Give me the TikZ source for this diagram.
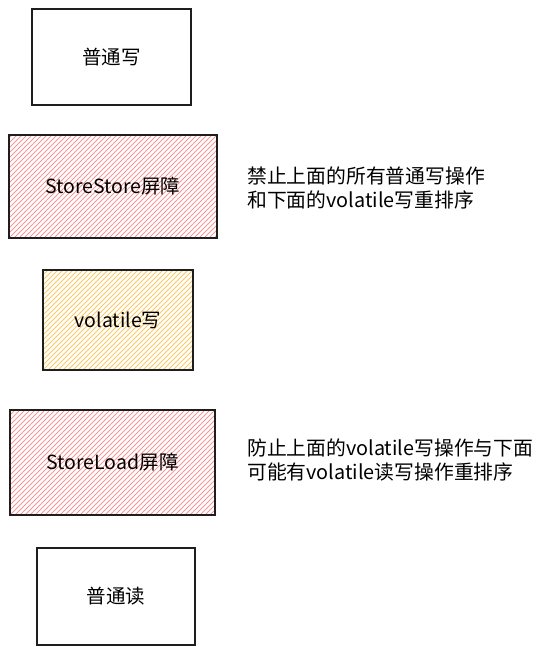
\documentclass[tikz,border=0pt]{standalone}
\usepackage{fontspec}
\setmainfont{Noto Sans CJK SC}
\definecolor{hred}{RGB}{246,150,150}
\definecolor{hyel}{RGB}{252,200,100}
\definecolor{edge}{RGB}{30,30,30}
\tikzset{
  box/.style={draw=edge, line width=1.3pt, inner sep=0pt, font=\fontsize{19.5}{22}\selectfont},
  hatch/.style={path picture={
    \foreach \i in {-125,-120,...,230}{
      \draw[#1, line width=0.85pt] ([xshift=\i pt]path picture bounding box.south west) -- ++(125pt,125pt);
    }}},
  note/.style={anchor=base west, align=left, inner sep=0pt, font=\fontsize{19.8}{24}\selectfont}
}
\begin{document}
\begin{tikzpicture}[x=1pt,y=-1pt]
\useasboundingbox (0,0) rectangle (548,654);
\node[box, minimum width=159, minimum height=96] (w) at (111.5,57) {普通写};
\node[box, hatch=hred, minimum width=208, minimum height=103] (ss) at (113,186.5) {StoreStore屏障};
\node[box, hatch=hyel, minimum width=150, minimum height=100] (vw) at (118,320) {volatile写};
\node[box, hatch=hred, minimum width=205, minimum height=105] (sl) at (112.5,462.5) {StoreLoad屏障};
\node[box, minimum width=158, minimum height=97] (r) at (116,596.5) {普通读};
\node[note] (n1) at (247,207) {禁止上面的所有普通写操作\\和下面的volatile写重排序};
\node[note] (n2) at (247,479) {防止上面的volatile写操作与下面\\可能有volatile读写操作重排序};
\end{tikzpicture}
\end{document}
